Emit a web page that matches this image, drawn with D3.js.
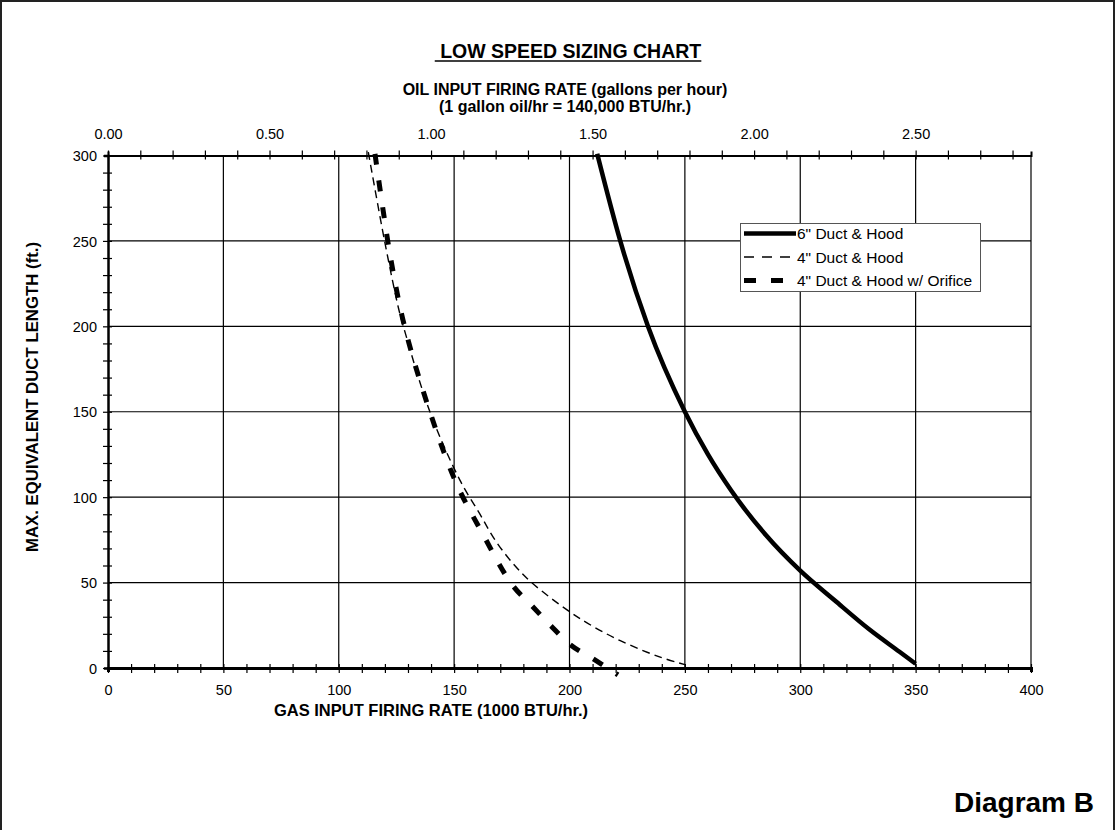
<!DOCTYPE html>
<html>
<head>
<meta charset="utf-8">
<script src="https://cdn.jsdelivr.net/npm/d3@7"></script>
<style>
  html, body { margin: 0; padding: 0; background: #fff; }
  svg { display: block; font-family: Arial, "Liberation Sans", sans-serif; }
</style>
</head>
<body>
<svg id="chart" width="1116" height="830"></svg>
<script>
// ---------------- DATA ----------------
const chartTitle = "LOW SPEED SIZING CHART";
const topTitle1 = "OIL INPUT FIRING RATE (gallons per hour)";
const topTitle2 = "(1 gallon oil/hr = 140,000 BTU/hr.)";
const xTitle = "GAS INPUT FIRING RATE (1000 BTU/hr.)";
const yTitle = "MAX. EQUIVALENT DUCT LENGTH (ft.)";
const cornerLabel = "Diagram B";

const gasTickLabels = [0, 50, 100, 150, 200, 250, 300, 350, 400];
const lengthTickLabels = [0, 50, 100, 150, 200, 250, 300];
const oilTickLabels = [0.00, 0.50, 1.00, 1.50, 2.00, 2.50];
const btuPerGallon = 140; // 1000 BTU/hr per gallon/hr

const seriesNames = ['6" Duct & Hood', '4" Duct & Hood', '4" Duct & Hood w/ Orifice'];

// 6" Duct & Hood
const sixGas = [212, 222, 234, 250, 260, 270, 285, 300, 315, 330, 343, 350];
const sixLen = [301, 250, 200, 150, 125, 104, 78, 57, 39.5, 22.5, 9.5, 2.5];

// 4" Duct & Hood
const fourGas = [112.8, 120, 126, 128, 139.5, 152.5, 161, 167.7, 175.6, 183.6, 200, 210, 222, 239, 250];
const fourLen = [302, 249, 210, 200, 150, 110, 90.5, 75, 61, 50, 33, 24.5, 16, 6.5, 2];

// 4" Duct & Hood w/ Orifice
const orifGas = [115.7, 119, 122.6, 128.5, 139.5, 151, 162, 175, 184, 192, 200.5, 211, 221];
const orifLen = [301, 270, 239, 200, 150, 108, 79.5, 49, 36, 24.6, 13.5, 4.7, -4];

// ---------------- CHART ----------------
const svg = d3.select("#chart");

// outer frame
svg.append("rect").attr("x", 1).attr("y", 1).attr("width", 1113).attr("height", 860)
  .attr("fill", "none").attr("stroke", "#222").attr("stroke-width", 2);

const x = d3.scaleLinear().domain([0, 400]).range([108, 1031]);
const y = d3.scaleLinear().domain([0, 300]).range([668, 155.5]);
const xOil = d3.scaleLinear().domain([0, 400 / btuPerGallon]).range([108, 1031]);

// grid
const grid = svg.append("g").attr("stroke", "#000").attr("stroke-width", 1.2);
grid.selectAll("line.v").data(gasTickLabels.slice(1)).join("line")
  .attr("x1", d => x(d)).attr("x2", d => x(d)).attr("y1", y(300)).attr("y2", y(0));
grid.selectAll("line.h").data(lengthTickLabels.slice(1, -1)).join("line")
  .attr("x1", x(0)).attr("x2", x(400)).attr("y1", d => y(d)).attr("y2", d => y(d));

// bottom axis
const gasMinor = d3.range(0, 41).map(i => i * 10);
const xAxis = d3.axisBottom(x).tickValues(gasMinor)
  .tickFormat(d => gasTickLabels.includes(d) ? d : "").tickSizeOuter(0).tickSize(4);
const gx = svg.append("g").attr("transform", `translate(0,${y(0)})`).call(xAxis);
gx.select(".domain").attr("stroke-width", 3);
gx.selectAll(".tick line").attr("y1", -4).attr("y2", 5).attr("stroke-width", 1.2);
gx.selectAll(".tick text").attr("y", 27).attr("dy", 0).attr("font-size", 14.5)
  .attr("font-family", "Arial, 'Liberation Sans', sans-serif").attr("fill", "#000");

// left axis
const lenMinor = d3.range(0, 31).map(i => i * 10);
const yAxis = d3.axisLeft(y).tickValues(lenMinor)
  .tickFormat(d => lengthTickLabels.includes(d) ? d : "").tickSizeOuter(0).tickSize(4);
const gy = svg.append("g").attr("transform", `translate(${x(0)},0)`).call(yAxis);
gy.select(".domain").attr("stroke-width", 2.5);
gy.selectAll(".tick line").attr("x1", -5).attr("x2", 4).attr("stroke-width", 1.2);
gy.selectAll(".tick text").attr("x", -11).attr("dy", "0.36em").attr("font-size", 14.5)
  .attr("font-family", "Arial, 'Liberation Sans', sans-serif").attr("fill", "#000");

// top axis (oil)
const oilMinor = d3.range(0, 29).map(i => i / 10);
const topAxis = d3.axisTop(xOil).tickValues(oilMinor)
  .tickFormat(d => oilTickLabels.some(v => Math.abs(v - d) < 1e-9) ? d3.format(".2f")(d) : "")
  .tickSizeOuter(0).tickSize(4);
const gt = svg.append("g").attr("transform", `translate(0,${y(300)})`).call(topAxis);
gt.select(".domain").attr("stroke-width", 2);
gt.selectAll(".tick line").attr("y1", -5).attr("y2", 4).attr("stroke-width", 1.2);
gt.selectAll(".tick text").attr("y", -17).attr("dy", 0).attr("font-size", 14.5)
  .attr("font-family", "Arial, 'Liberation Sans', sans-serif").attr("fill", "#000");

// series
const line = d3.line().x(d => x(d[0])).y(d => y(d[1])).curve(d3.curveCatmullRom.alpha(0.5));
const smoothLine = d3.line().x(d => x(d[0])).y(d => y(d[1])).curve(d3.curveMonotoneX);
const zip = (a, b) => a.map((v, i) => [v, b[i]]);

svg.append("path").datum(zip(sixGas, sixLen)).attr("d", smoothLine)
  .attr("fill", "none").attr("stroke", "#000").attr("stroke-width", 4.5);
svg.append("path").datum(zip(fourGas, fourLen)).attr("d", line)
  .attr("fill", "none").attr("stroke", "#000").attr("stroke-width", 1.4)
  .attr("stroke-dasharray", "8,5");
svg.append("path").datum(zip(orifGas, orifLen)).attr("d", line)
  .attr("fill", "none").attr("stroke", "#000").attr("stroke-width", 5)
  .attr("stroke-dasharray", "11,16");

// legend
const lg = svg.append("g");
lg.append("rect").attr("x", 740.5).attr("y", 223.5).attr("width", 240).attr("height", 68)
  .attr("fill", "#fff").attr("stroke", "#555").attr("stroke-width", 1);
const legendStyles = [
  { w: 4.5, dash: null },
  { w: 1.4, dash: "10,8" },
  { w: 5, dash: "12,15" }
];
const rowsY = [233.5, 257, 280.5];
seriesNames.forEach((name, i) => {
  lg.append("line").attr("x1", 744).attr("x2", 796).attr("y1", rowsY[i]).attr("y2", rowsY[i])
    .attr("stroke", "#000").attr("stroke-width", legendStyles[i].w)
    .attr("stroke-dasharray", legendStyles[i].dash);
  lg.append("text").attr("x", 797).attr("y", rowsY[i]).attr("dy", "0.36em")
    .attr("font-size", 15.5).text(name);
});

// titles
const title = svg.append("text").attr("x", 568).attr("y", 58).attr("text-anchor", "middle")
  .attr("font-size", 19.5).attr("font-weight", "bold").text("\u00a0" + chartTitle);
const tb = title.node().getBBox();
svg.append("line").attr("x1", tb.x).attr("x2", tb.x + tb.width).attr("y1", 61).attr("y2", 61)
  .attr("stroke", "#000").attr("stroke-width", 1.6);

svg.append("text").attr("x", 565).attr("y", 95).attr("text-anchor", "middle")
  .attr("font-size", 16).attr("font-weight", "bold").text(topTitle1);
svg.append("text").attr("x", 565).attr("y", 112).attr("text-anchor", "middle")
  .attr("font-size", 16).attr("font-weight", "bold").text(topTitle2);

svg.append("text").attr("x", 431).attr("y", 716).attr("text-anchor", "middle")
  .attr("font-size", 16.5).attr("font-weight", "bold").text(xTitle);

svg.append("text").attr("transform", "translate(38,397) rotate(-90)").attr("text-anchor", "middle")
  .attr("font-size", 16.8).attr("font-weight", "bold").text(yTitle);

svg.append("text").attr("x", 1094).attr("y", 812).attr("text-anchor", "end")
  .attr("font-size", 28).attr("font-weight", "bold").text(cornerLabel);
</script>
</body>
</html>
